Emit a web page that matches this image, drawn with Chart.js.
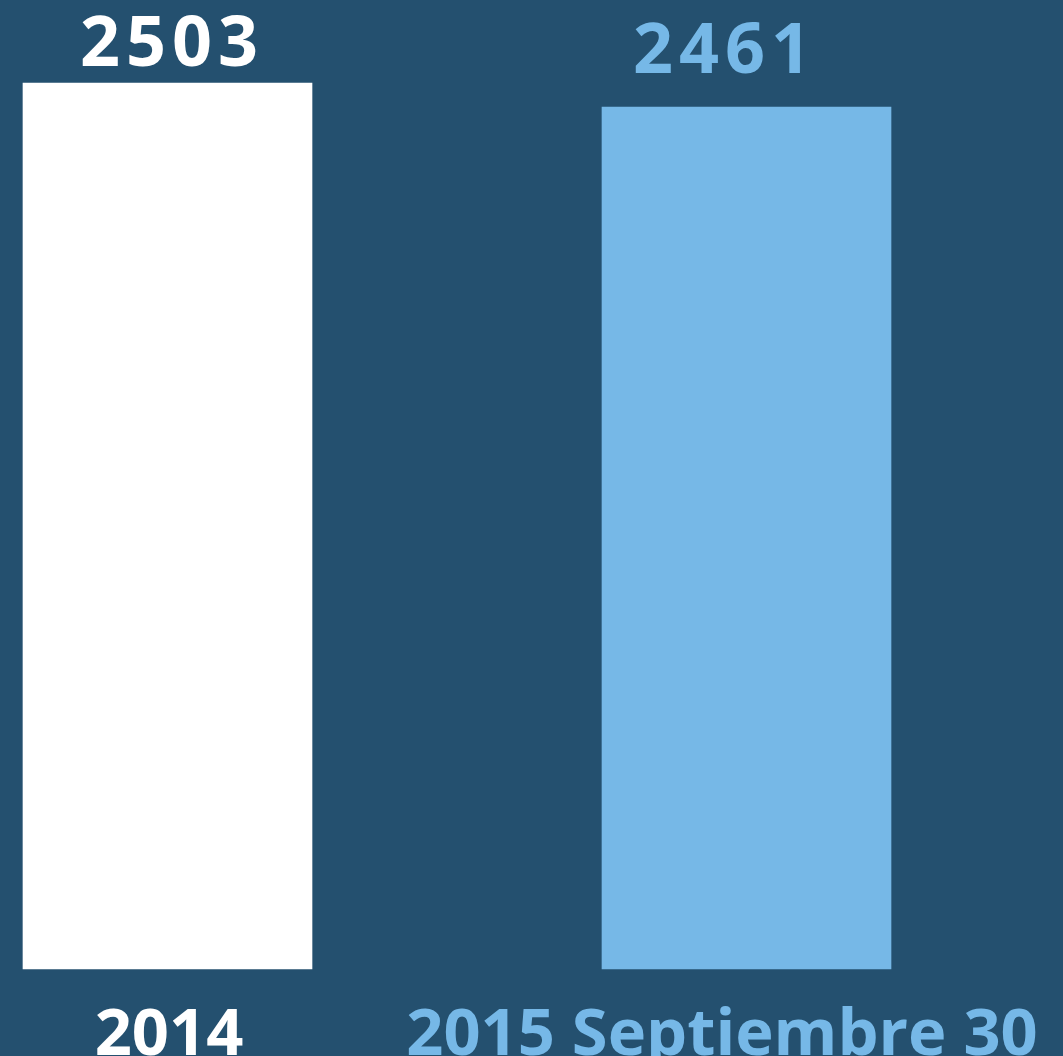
<!DOCTYPE html>
<html>
<head>
<meta charset="utf-8">
<script src="https://cdn.jsdelivr.net/npm/chart.js@4"></script>
<style>
  html, body { margin: 0; padding: 0; background: #24506f; }
  canvas { display: block; }
</style>
</head>
<body>
<canvas id="barCanvas" width="1063" height="1056"></canvas>
<script>
const categories = ['2014', '2015 Septiembre 30'];
const values = [2503, 2461];
const barColors = ['#ffffff', '#76b8e7'];
const yMin = 950;
const yMax = 2503;

// draws the numbers above the bars and the category names under them
const barLabels = {
  id: 'barLabels',
  afterDatasetsDraw(chart, args, opts) {
    const ctx = chart.ctx;
    const meta = chart.getDatasetMeta(0);
    ctx.save();
    ctx.textAlign = 'center';
    ctx.textBaseline = 'alphabetic';
    meta.data.forEach((bar, i) => {
      const x = bar.x + opts.shift[i];
      ctx.fillStyle = barColors[i];
      ctx.font = opts.valueFont;
      ctx.letterSpacing = opts.valueSpacing + 'px';
      ctx.fillText(String(values[i]), x + opts.valueSpacing / 2, bar.y - opts.valueGap[i]);
      ctx.font = opts.catFont;
      ctx.letterSpacing = '0px';
      ctx.fillText(categories[i], x, chart.chartArea.bottom + opts.catGap);
    });
    ctx.restore();
  }
};

const myChart = document.getElementById('barCanvas');

new Chart(myChart, {
  type: 'bar',
  data: {
    labels: categories,
    datasets: [{
      data: values,
      base: yMin,
      backgroundColor: barColors,
      borderWidth: 0,
      barThickness: 289,
      clip: false
    }]
  },
  options: {
    responsive: false,
    animation: false,
    layout: {
      padding: { top: 83, bottom: 87, left: 167.5, right: 316.5 }
    },
    scales: {
      x: {
        display: false,
        offset: false,
        grid: { display: false }
      },
      y: {
        display: false,
        min: yMin,
        max: yMax,
        grid: { display: false }
      }
    },
    plugins: {
      legend: { display: false },
      tooltip: { enabled: false },
      barLabels: {
        valueFont: 'bold 70px "Open Sans"',
        valueSpacing: 6,
        catFont: 'bold 65px "Open Sans"',
        shift: [1.5, -24.5],
        valueGap: [17, 34],
        catGap: 86
      }
    }
  },
  plugins: [barLabels]
});
</script>
</body>
</html>
